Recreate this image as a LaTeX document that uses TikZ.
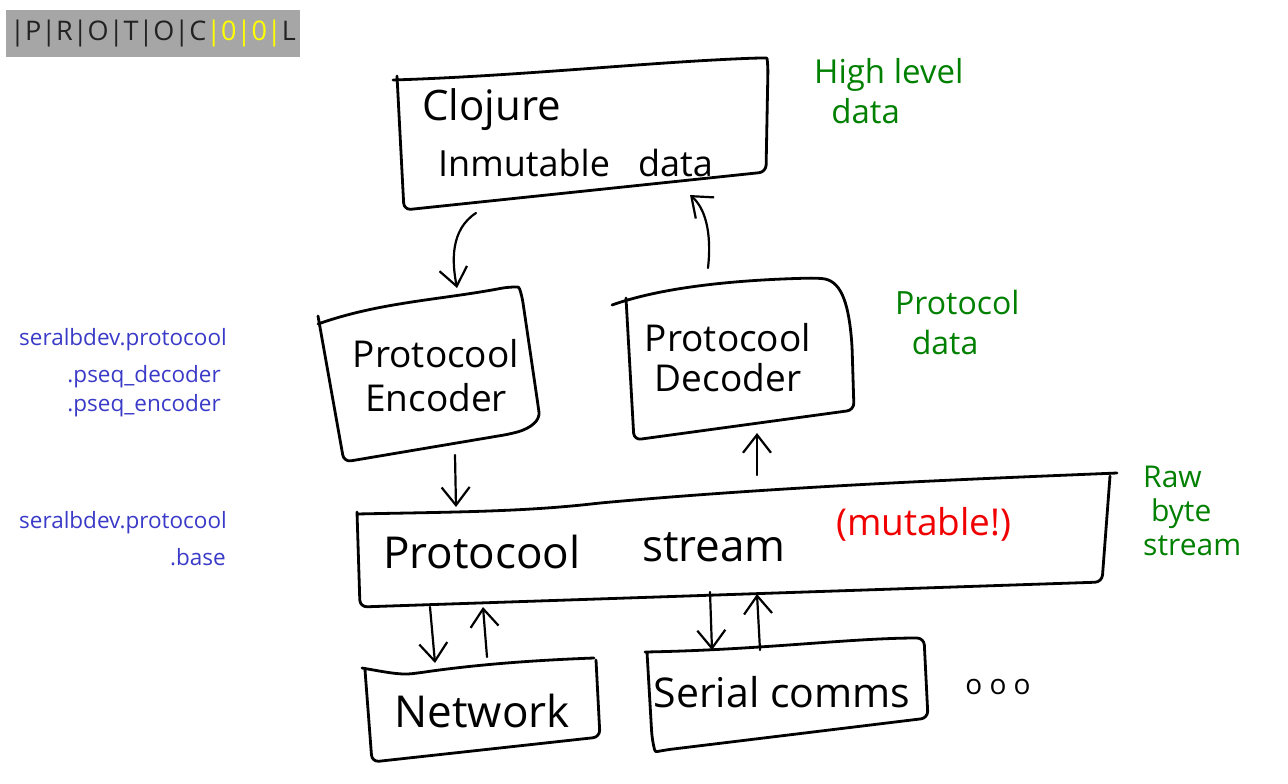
\documentclass[tikz,border=0pt]{standalone}
\usepackage{fontspec}
\setmainfont{Open Sans}
\newfontfamily\hand{Open Sans}
\usetikzlibrary{arrows.meta}
\definecolor{logogray}{RGB}{166,166,166}
\definecolor{logotext}{RGB}{34,34,34}
\definecolor{logoyellow}{RGB}{255,255,0}
\definecolor{nsblue}{RGB}{58,58,200}
\definecolor{notegreen}{RGB}{0,128,0}
\definecolor{hotred}{RGB}{240,0,0}
\tikzset{
  sketch/.style={draw=black, line width=2.8pt, line cap=round, line join=round, rounded corners=7pt},
  flow/.style={draw=black, line width=2.2pt, line cap=round,
    -{Straight Barb[length=18pt,width=28pt,line width=2.2pt]}},
  handtext/.style={font=\hand, text=black, inner sep=0pt, align=center},
  note/.style={font=\hand, text=notegreen, inner sep=0pt, align=left},
  ns/.style={font=\fontsize{22.5}{28}\selectfont, text=nsblue, inner sep=0pt, anchor=east},
}
\begin{document}
\begin{tikzpicture}[x=1pt,y=-1pt]
\useasboundingbox (0,0) rectangle (1288,784);

% logo
\fill[logogray] (6,10) rectangle (300,57);
\node[inner sep=0pt, font=\fontsize{27}{32}\selectfont, text=logotext] (logo) at (153,34)
  {|P|R|O|T|O|C\textcolor{logoyellow}{|0|0|}L};

% namespace labels
\node[ns] (ns1) at (227,340) {seralbdev.protocool};
\node[ns] (ns2) at (221,377) {.pseq\_decoder};
\node[ns] (ns3) at (221,406) {.pseq\_encoder};
\node[ns] (ns4) at (227,523) {seralbdev.protocool};
\node[ns] (ns5) at (226,557) {.base};

% Clojure box
\draw[sketch] (397,76) -- (404,210) -- (766,172) -- (768,66)
  .. controls (767,58) .. (758,58) .. controls (650,62) and (520,76) .. (393,80);
\node[handtext, font=\hand\fontsize{42}{44}\selectfont, anchor=west] (clj) at (422,110) {Clojure};
\node[handtext, font=\hand\fontsize{36}{40}\selectfont, anchor=west] (imm) at (438,163) {Inmutable\ \ \ data};

% Encoder box
\draw[sketch] (318,316) -- (344,462) -- (510,434) .. controls (532,428) and (540,420) .. (538,405) -- (522,296)
  .. controls (519,287) .. (508,287) .. controls (440,300) and (380,302) .. (318,324);
\node[handtext, font=\hand\fontsize{37}{44}\selectfont] (enc) at (436,376) {Protocool\\Encoder};

% Decoder box
\draw[sketch] (626,298) -- (634,440) -- (854,410) -- (852,345)
  .. controls (848,300) and (840,280) .. (815,278)
  .. controls (730,280) and (660,288) .. (612,305);
\node[handtext, font=\hand\fontsize{37}{40}\selectfont] (dec) at (728,358) {Protocool\\Decoder};

% Stream box
\draw[sketch] (357,512) -- (360,607) -- (1102,582) -- (1110,476)
  (357,514) .. controls (450,512) and (520,512) .. (600,503) .. controls (800,485) and (1000,478) .. (1117,473);
\node[handtext, font=\hand\fontsize{44}{46}\selectfont, anchor=west] (strm) at (383,552) {Protocool};
\node[handtext, font=\hand\fontsize{44}{46}\selectfont, anchor=west] (strm2) at (642,547) {stream};
\node[handtext, font=\hand\fontsize{37}{40}\selectfont, text=hotred, anchor=west] (mut) at (836,524) {(mutable!)};

% Network box
\draw[sketch] (365,670) -- (372,762) -- (600,737) -- (596,660)
  (362,668) .. controls (385,672) and (400,675) .. (418,673) .. controls (480,664) and (540,660) .. (594,658);
\node[handtext, font=\hand\fontsize{44}{46}\selectfont] (net) at (482,711) {Network};

% Serial comms box
\draw[sketch] (647,652) -- (652,738) .. controls (655,752) .. (665,750) -- (928,718) -- (924,638)
  .. controls (850,638) and (760,650) .. (645,652);
\node[handtext, font=\hand\fontsize{41}{44}\selectfont] (ser) at (782,692) {Serial comms};

% ellipsis
\node[handtext, font=\hand\fontsize{28}{30}\selectfont] (more) at (998,687) {o o o};

% green notes
\node[note, font=\hand\fontsize{33}{40}\selectfont, anchor=north west] (n1) at (814,58) {High level\\\ \ data};
\node[note, font=\hand\fontsize{32}{40}\selectfont, anchor=north west] (n2) at (895,290) {Protocol\\\ \ data};
\node[note, font=\hand\fontsize{30}{34}\selectfont, anchor=north west] (n3) at (1143,466) {Raw\\\ byte\\stream};

% connector end points
\coordinate (cljout) at (476,213);
\coordinate (encin) at (457,288);
\coordinate (decout) at (708,268);
\coordinate (cljin) at (690,195);
\coordinate (encout) at (455,455);
\coordinate (strmin) at (456,507);
\coordinate (decin) at (757,433);
\coordinate (strmout) at (757,475);
\coordinate (netdn0) at (430,607);
\coordinate (netdn1) at (435,663);
\coordinate (netup0) at (487,657);
\coordinate (netup1) at (483,607);
\coordinate (serdn0) at (710,592);
\coordinate (serdn1) at (712,650);
\coordinate (serup0) at (760,650);
\coordinate (serup1) at (757,594);

\draw[flow] (cljout) .. controls (450,230) and (452,262) .. (encin);
\draw[flow] (decout) .. controls (712,232) and (705,208) .. (cljin);
\draw[flow] (encout) -- (strmin);
\draw[flow] (strmout) -- (decin);
\draw[flow] (netdn0) -- (netdn1);
\draw[flow] (netup0) -- (netup1);
\draw[flow] (serdn0) -- (serdn1);
\draw[flow] (serup0) -- (serup1);
\end{tikzpicture}
\end{document}
